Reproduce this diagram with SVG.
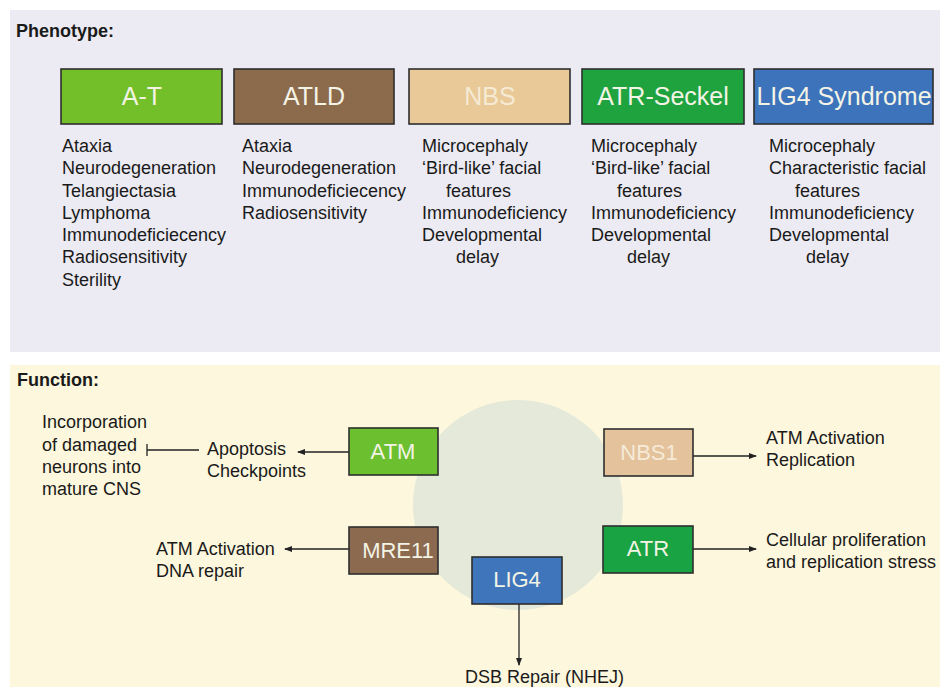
<svg xmlns="http://www.w3.org/2000/svg" width="944" height="689" viewBox="0 0 944 689">
<defs>
<style>
text{font-family:"Liberation Sans",Arial,sans-serif;fill:#1a1a1a}
.hdr{font-size:18px;font-weight:bold}
.lst{font-size:18px}
.bl{font-size:25px;text-anchor:middle;fill:#f3f3e6}
.fl{font-size:22px;text-anchor:middle;fill:#f3f3e6}
.ft{font-size:18px}
.box{stroke:#2e2e2e;stroke-width:1.6}
.con{stroke:#222;stroke-width:1.3;fill:none}
</style>
<marker id="ah" markerWidth="8" markerHeight="6" refX="7" refY="3" orient="auto" markerUnits="userSpaceOnUse">
<path d="M0,0 L8,3 L0,6 Z" fill="#222"/>
</marker>
</defs>
<rect width="944" height="689" fill="#ffffff"/>
<rect x="10" y="10" width="930" height="342" fill="#ecebf3"/>
<rect x="10" y="365" width="930" height="322" fill="#fdf7dd"/>
<text class="hdr" x="16" y="37">Phenotype:</text>
<text class="hdr" x="17" y="386">Function:</text>

<g id="AT">
<rect class="box" x="61" y="69" width="161" height="55" fill="#72bf2a"/>
<text class="bl" x="142" y="105">A-T</text>
<text class="lst" x="62" y="152">Ataxia</text>
<text class="lst" x="62" y="174">Neurodegeneration</text>
<text class="lst" x="62" y="197">Telangiectasia</text>
<text class="lst" x="62" y="219">Lymphoma</text>
<text class="lst" x="62" y="241">Immunodeficiecency</text>
<text class="lst" x="62" y="263">Radiosensitivity</text>
<text class="lst" x="62" y="286">Sterility</text>
</g>
<g id="ATLD">
<rect class="box" x="234" y="69" width="160" height="55" fill="#8c6a4c"/>
<text class="bl" x="314" y="105">ATLD</text>
<text class="lst" x="242" y="152">Ataxia</text>
<text class="lst" x="242" y="174">Neurodegeneration</text>
<text class="lst" x="242" y="197">Immunodeficiecency</text>
<text class="lst" x="242" y="219">Radiosensitivity</text>
</g>
<g id="NBS">
<rect class="box" x="409" y="69" width="161" height="55" fill="#e8c997"/>
<text class="bl" x="490" y="105" style="fill:#f6ead4">NBS</text>
<text class="lst" x="422" y="152">Microcephaly</text>
<text class="lst" x="422" y="174">‘Bird-like’ facial</text>
<text class="lst" x="446" y="197">features</text>
<text class="lst" x="422" y="219">Immunodeficiency</text>
<text class="lst" x="422" y="241">Developmental</text>
<text class="lst" x="456" y="263">delay</text>
</g>
<g id="ATRSeckel">
<rect class="box" x="582" y="69" width="162" height="55" fill="#1ea33f"/>
<text class="bl" x="663" y="105">ATR-Seckel</text>
<text class="lst" x="591" y="152">Microcephaly</text>
<text class="lst" x="591" y="174">‘Bird-like’ facial</text>
<text class="lst" x="617" y="197">features</text>
<text class="lst" x="591" y="219">Immunodeficiency</text>
<text class="lst" x="591" y="241">Developmental</text>
<text class="lst" x="627" y="263">delay</text>
</g>
<g id="LIG4Syndrome">
<rect class="box" x="754" y="69" width="179" height="55" fill="#3d73bb"/>
<text class="bl" x="844" y="105">LIG4 Syndrome</text>
<text class="lst" x="769" y="152">Microcephaly</text>
<text class="lst" x="769" y="174">Characteristic facial</text>
<text class="lst" x="795" y="197">features</text>
<text class="lst" x="769" y="219">Immunodeficiency</text>
<text class="lst" x="769" y="241">Developmental</text>
<text class="lst" x="806" y="263">delay</text>
</g>

<circle cx="518" cy="505" r="105" fill="#e4e9d9"/>

<g id="connectors">
<line class="con" x1="349" y1="452" x2="298" y2="452" marker-end="url(#ah)"/>
<line class="con" x1="199" y1="450" x2="147" y2="450"/>
<line class="con" x1="147" y1="444" x2="147" y2="456"/>
<line class="con" x1="349" y1="549" x2="285" y2="549" marker-end="url(#ah)"/>
<line class="con" x1="693" y1="456" x2="756" y2="456" marker-end="url(#ah)"/>
<line class="con" x1="693" y1="549" x2="756" y2="549" marker-end="url(#ah)"/>
<line class="con" x1="519" y1="604" x2="519" y2="665" marker-end="url(#ah)"/>
</g>

<g id="ATM">
<rect class="box" x="349" y="428" width="89" height="47" fill="#6cc02f"/>
<text class="fl" x="393" y="459">ATM</text>
</g>
<g id="MRE11">
<rect class="box" x="349" y="527" width="89" height="47" fill="#8c6a50"/>
<text class="fl" x="398" y="558">MRE11</text>
</g>
<g id="NBS1">
<rect class="box" x="604" y="429" width="89" height="47" fill="#e3c29c"/>
<text class="fl" x="649" y="460" style="fill:#f6ead8">NBS1</text>
</g>
<g id="ATR">
<rect class="box" x="603" y="526" width="90" height="47" fill="#1aa343"/>
<text class="fl" x="648" y="556">ATR</text>
</g>
<g id="LIG4">
<rect class="box" x="472" y="557" width="90" height="47" fill="#3e75bb"/>
<text class="fl" x="517" y="587">LIG4</text>
</g>

<g id="labels">
<text class="ft" x="42" y="428">Incorporation</text>
<text class="ft" x="42" y="451">of damaged</text>
<text class="ft" x="42" y="473">neurons into</text>
<text class="ft" x="42" y="495">mature CNS</text>
<text class="ft" x="207" y="455">Apoptosis</text>
<text class="ft" x="207" y="477">Checkpoints</text>
<text class="ft" x="156" y="555">ATM Activation</text>
<text class="ft" x="156" y="577">DNA repair</text>
<text class="ft" x="766" y="444">ATM Activation</text>
<text class="ft" x="766" y="466">Replication</text>
<text class="ft" x="766" y="546">Cellular proliferation</text>
<text class="ft" x="766" y="568">and replication stress</text>
<text class="ft" x="465" y="683">DSB Repair (NHEJ)</text>
</g>
</svg>
